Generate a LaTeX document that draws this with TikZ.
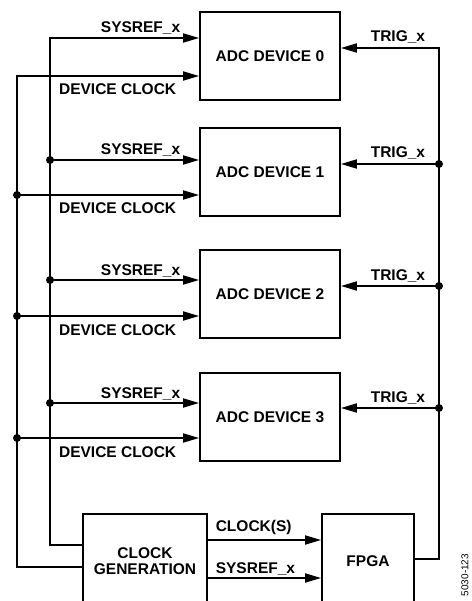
\documentclass[tikz,border=0pt]{standalone}
\usepackage{fontspec}
\setmainfont{Liberation Sans}
\usepackage{tikz}
\usetikzlibrary{arrows.meta, positioning, calc}
\tikzset{
	blk/.style ={rectangle, draw=black, line width=1.8pt, minimum width=140pt, minimum height=88pt, align=center, font=\bfseries\fontsize{15.5}{16}\selectfont},
	sig/.style ={-{Triangle[length=16pt, width=9pt]}, line width=1.8pt},
	wire/.style={line width=1.8pt, line cap=rect},
	lbl/.style ={font=\bfseries\fontsize{15.5}{16}\selectfont, inner sep=0pt},
	jdot/.style={circle, fill=black, minimum size=8pt, inner sep=0pt},
}
\begin{document}
\begin{tikzpicture}[x=1pt, y=-1pt]
	\useasboundingbox (0,0) rectangle (471,601);
	\clip (0,0) rectangle (471,601);
	% clock source and FPGA, cut by the lower edge
	\node[blk, minimum width=124pt, minimum height=94pt] (cg) at (145,561) {CLOCK\\GENERATION};
	\node[blk, minimum width=92pt, minimum height=94pt] (fpga) at (368,561) {FPGA};
	\draw[sig] ([yshift=21pt]cg.east) -- ([yshift=21pt]fpga.west) node[lbl, pos=0, anchor=base west, xshift=7pt, yshift=9pt] (clkl) {CLOCK(S)};
	\draw[sig] ([yshift=-17pt]cg.east) -- ([yshift=-17pt]fpga.west) node[lbl, pos=0, anchor=base west, xshift=7pt, yshift=5pt] (srfl) {SYSREF\_x};
	% ADC rows: name/centre/sysref/trig/clock
	\foreach \n/\c/\s/\t/\k in {0/56/38/48/76, 1/172/160/164/195, 2/294/280/286/316, 3/417/403/408/438} {
		\node[blk] (adc\n) at (270,\c) {ADC DEVICE \n};
		\coordinate (sr\n) at (50,\s);
		\coordinate (ck\n) at (17,\k);
		\coordinate (tg\n) at (439,\t);
		\draw[sig] (sr\n) -- (adc\n.west |- sr\n) node[lbl, anchor=base east, xshift=-18pt, yshift=5pt] (srl\n) {SYSREF\_x};
		\draw[sig] (ck\n) -- (adc\n.west |- ck\n) node[lbl, anchor=base east, xshift=-22pt, yshift=-19pt] (ckl\n) {DEVICE CLOCK};
		\draw[sig] (tg\n) -- (adc\n.east |- tg\n) node[lbl, anchor=base west, xshift=29pt, yshift=6pt] (tgl\n) {TRIG\_x};
	}
	% buses
	\draw[wire] ([yshift=16pt]cg.west) -| (sr0);
	\draw[wire] ([yshift=-6pt]cg.west) -| (ck0);
	\draw[wire] ([yshift=2pt]fpga.east) -| (tg0);
	\foreach \n in {1,2,3} {
		\node[jdot] (srd\n) at (sr\n) {};
		\node[jdot] (ckd\n) at (ck\n) {};
		\node[jdot] (tgd\n) at (tg\n) {};
	}
	\node[rotate=90, inner sep=0pt, font=\fontsize{10}{12}\selectfont] (fig) at (465,575) {5030-123};
\end{tikzpicture}
\end{document}
